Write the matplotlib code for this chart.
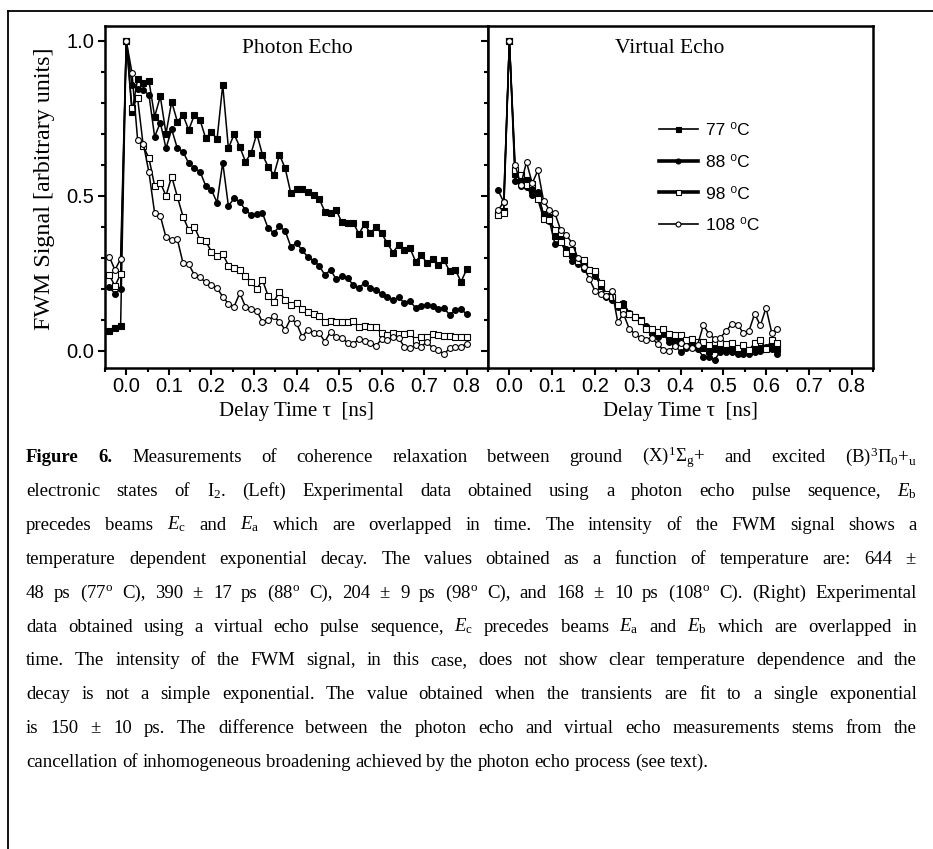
import numpy as np
import matplotlib
matplotlib.use('Agg')
import matplotlib.pyplot as plt
from matplotlib.lines import Line2D
from matplotlib.ticker import MultipleLocator, FormatStrFormatter

plt.rcParams['font.family'] = ['Liberation Sans', 'DejaVu Sans']
plt.rcParams['mathtext.fontset'] = 'custom'
plt.rcParams['mathtext.rm'] = 'Liberation Serif'
plt.rcParams['mathtext.it'] = 'Liberation Serif:italic'
plt.rcParams['mathtext.bf'] = 'Liberation Serif:bold'

# Pas de retard entre mostres (ns)
pas = 0.8 / 60
t_esq = np.arange(-3, 61) * pas          # Photon echo
t_dre = np.arange(-2, 48) * pas          # Virtual echo

# Photon echo (senyal normalitzat)
pe_77 = [0.065, 0.073, 0.08, 1.0, 0.769, 0.876, 0.863, 0.87, 0.755, 0.82, 0.70, 0.803, 0.739, 0.76,
         0.712, 0.76, 0.744, 0.685, 0.706, 0.682, 0.857, 0.653, 0.698, 0.658, 0.61, 0.637, 0.70,
         0.632, 0.594, 0.567, 0.632, 0.589, 0.508, 0.521, 0.521, 0.513, 0.503, 0.49, 0.449, 0.446,
         0.454, 0.414, 0.411, 0.413, 0.377, 0.409, 0.379, 0.399, 0.379, 0.347, 0.317, 0.342, 0.325,
         0.331, 0.288, 0.309, 0.283, 0.295, 0.277, 0.293, 0.256, 0.261, 0.223, 0.263]
pe_88 = [0.205, 0.185, 0.20, 1.0, 0.857, 0.843, 0.84, 0.825, 0.69, 0.736, 0.653, 0.714, 0.653, 0.642,
         0.605, 0.589, 0.578, 0.532, 0.519, 0.478, 0.607, 0.467, 0.492, 0.481, 0.454, 0.438, 0.441,
         0.444, 0.395, 0.381, 0.401, 0.387, 0.336, 0.347, 0.325, 0.302, 0.291, 0.274, 0.245, 0.261,
         0.231, 0.242, 0.234, 0.213, 0.202, 0.22, 0.202, 0.197, 0.184, 0.175, 0.164, 0.173, 0.154,
         0.161, 0.138, 0.145, 0.148, 0.145, 0.134, 0.138, 0.116, 0.132, 0.134, 0.119]
pe_98 = [0.245, 0.209, 0.248, 1.0, 0.784, 0.814, 0.66, 0.621, 0.532, 0.542, 0.50, 0.562, 0.497, 0.433,
         0.39, 0.40, 0.358, 0.354, 0.32, 0.306, 0.313, 0.275, 0.266, 0.261, 0.24, 0.223, 0.199,
         0.229, 0.177, 0.159, 0.191, 0.164, 0.148, 0.154, 0.134, 0.124, 0.119, 0.113, 0.094, 0.097,
         0.094, 0.094, 0.092, 0.095, 0.078, 0.081, 0.078, 0.076, 0.057, 0.052, 0.057, 0.055, 0.055,
         0.057, 0.035, 0.046, 0.046, 0.055, 0.052, 0.048, 0.048, 0.046, 0.044, 0.044]
pe_108 = [0.304, 0.261, 0.296, 1.0, 0.897, 0.68, 0.668, 0.575, 0.444, 0.435, 0.366, 0.356, 0.36, 0.283,
          0.279, 0.245, 0.237, 0.221, 0.213, 0.202, 0.175, 0.152, 0.143, 0.186, 0.143, 0.134, 0.129,
          0.094, 0.10, 0.111, 0.094, 0.068, 0.105, 0.089, 0.046, 0.068, 0.057, 0.057, 0.030, 0.062,
          0.044, 0.041, 0.027, 0.023, 0.038, 0.033, 0.027, 0.016, 0.038, 0.035, 0.046, 0.041, 0.014,
          0.009, 0.019, 0.014, 0.030, 0.009, 0.003, -0.01, 0.009, 0.014, 0.014, 0.023]

# Virtual echo
ve_77 = [0.44, 0.45, 1.0, 0.57, 0.55, 0.55, 0.52, 0.50, 0.44, 0.43, 0.37, 0.36, 0.32, 0.31, 0.29,
         0.28, 0.26, 0.25, 0.21, 0.18, 0.17, 0.145, 0.15, 0.12, 0.11, 0.10, 0.075, 0.06, 0.055, 0.06,
         0.045, 0.04, 0.03, 0.03, 0.025, 0.02, 0.01, 0.0, 0.005, 0.01, 0.012, 0.008, 0.005, 0.0,
         0.002, 0.005, 0.01, 0.008, 0.015, 0.005]
ve_88 = [0.518, 0.48, 1.0, 0.548, 0.532, 0.528, 0.501, 0.512, 0.437, 0.42, 0.343, 0.359, 0.33, 0.291,
         0.28, 0.265, 0.262, 0.24, 0.215, 0.173, 0.165, 0.14, 0.155, 0.123, 0.108, 0.10, 0.08, 0.065,
         0.045, 0.055, 0.03, 0.02, -0.004, 0.01, 0.015, 0.005, -0.018, -0.018, -0.028, -0.002,
         -0.004, -0.004, -0.01, -0.011, -0.01, -0.002, 0.0, 0.012, 0.005, -0.011]
ve_98 = [0.437, 0.445, 1.0, 0.584, 0.567, 0.535, 0.537, 0.488, 0.426, 0.423, 0.389, 0.35, 0.316, 0.325,
         0.291, 0.293, 0.262, 0.258, 0.22, 0.184, 0.175, 0.147, 0.13, 0.12, 0.11, 0.095, 0.072, 0.072,
         0.06, 0.07, 0.055, 0.052, 0.052, 0.035, 0.04, 0.028, 0.03, 0.02, 0.028, 0.025, 0.022, 0.025,
         0.008, 0.018, 0.003, 0.025, 0.036, 0.005, 0.036, 0.025]
ve_108 = [0.453, 0.48, 1.0, 0.60, 0.535, 0.609, 0.54, 0.582, 0.483, 0.455, 0.443, 0.389, 0.373, 0.347,
          0.30, 0.27, 0.233, 0.194, 0.184, 0.178, 0.193, 0.093, 0.12, 0.072, 0.055, 0.043, 0.034,
          0.043, 0.021, 0.004, -0.001, 0.015, 0.025, 0.015, 0.01, 0.02, 0.082, 0.055, 0.039, 0.043,
          0.064, 0.088, 0.085, 0.058, 0.064, 0.12, 0.082, 0.139, 0.058, 0.072]

temperatures = ['77', '88', '98', '108']
etiquetes = [t + ' \u2070C' for t in temperatures]

# estil de cada serie: marcador, farciment, gruix a la llegenda
marcadors = ['s', 'o', 's', 'o']
farciment = ['black', 'black', 'white', 'white']
gruix_llegenda = [1.2, 2.6, 2.6, 1.2]

serif = 'Liberation Serif'

fig = plt.figure(figsize=(9.33, 8.49), dpi=100)
ax1 = fig.add_axes([105/933, 1-368/849, 383/933, 342/849])
ax2 = fig.add_axes([488/933, 1-368/849, 385/933, 342/849])

for y, m, f in zip([pe_77, pe_88, pe_98, pe_108], marcadors, farciment):
    ax1.plot(t_esq, y, color='black', lw=1.1, marker=m, ms=4.2, mfc=f, mec='black', mew=0.8)

for y, m, f in zip([ve_77, ve_88, ve_98, ve_108], marcadors, farciment):
    ax2.plot(t_dre, y, color='black', lw=1.1, marker=m, ms=4.2, mfc=f, mec='black', mew=0.8)

for ax in (ax1, ax2):
    ax.set_xlim(-0.05, 0.85)
    ax.set_ylim(-0.055, 1.047)
    ax.set_xticks(np.arange(0, 0.81, 0.1))
    ax.xaxis.set_major_formatter(FormatStrFormatter('%.1f'))
    ax.xaxis.set_minor_locator(MultipleLocator(0.05))
    ax.set_yticks([0.0, 0.5, 1.0])
    ax.yaxis.set_major_formatter(FormatStrFormatter('%.1f'))
    ax.yaxis.set_minor_locator(MultipleLocator(0.1))
    ax.tick_params(which='both', direction='out', width=1.5, labelsize=14.5, top=False, right=False)
    ax.tick_params(which='major', length=5)
    ax.tick_params(which='minor', length=3)
    ax.tick_params(axis='x', pad=1.5)
    ax.tick_params(axis='y', pad=3)
    for s in ax.spines.values():
        s.set_linewidth(1.8)
    ax.set_xlabel('Delay Time \u03c4  [ns]', family=serif, fontsize=15)
    ax.xaxis.set_label_coords(0.5, -0.126)
    ax.xaxis.label.set_va('center')

ax2.tick_params(axis='y', labelleft=False)
ax1.set_ylabel('FWM Signal [arbitrary units]', family=serif, fontsize=17.3)
ax1.yaxis.set_label_coords(-0.159, 0.523)
ax1.yaxis.label.set_va('center')

ax1.text(0.501, 0.933, 'Photon Echo', transform=ax1.transAxes, ha='center', va='center',
         family=serif, fontsize=15.5)
ax2.text(0.473, 0.933, 'Virtual Echo', transform=ax2.transAxes, ha='center', va='center',
         family=serif, fontsize=15.5)

mans = [Line2D([], [], color='black', lw=g, marker=m, ms=3.6, mfc=f, mec='black', mew=0.8)
        for g, m, f in zip(gruix_llegenda, marcadors, farciment)]
ax2.legend(mans, etiquetes, loc='upper left', bbox_to_anchor=(0.444, 0.716), frameon=False,
           fontsize=12.5, handlelength=2.25, handletextpad=0.45, labelspacing=0.95,
           borderpad=0, borderaxespad=0)

# marc de la figura
fig.add_artist(Line2D([8/933, 1], [1-11/849, 1-11/849], color='black', lw=1.3))
fig.add_artist(Line2D([8/933, 8/933], [1-11/849, 0], color='black', lw=1.3))

# Peu de figura (justificat)
linies = [
    r"Figure 6.  Measurements of coherence relaxation between ground (X)$^1\Sigma_\mathrm{g}$+ and excited (B)$^3\Pi_0$+$_\mathrm{u}$",
    r"electronic states of I$_2$. (Left) Experimental data obtained using a photon echo pulse sequence, $E_\mathrm{b}$",
    r"precedes beams $E_\mathrm{c}$ and $E_\mathrm{a}$ which are overlapped in time. The intensity of the FWM signal shows a",
    r"temperature dependent exponential decay. The values obtained as a function of temperature are: 644 $\pm$",
    r"48 ps (77$^\mathrm{o}$ C), 390 $\pm$ 17 ps (88$^\mathrm{o}$ C), 204 $\pm$ 9 ps (98$^\mathrm{o}$ C), and 168 $\pm$ 10 ps (108$^\mathrm{o}$ C). (Right) Experimental",
    r"data obtained using a virtual echo pulse sequence, $E_\mathrm{c}$ precedes beams $E_\mathrm{a}$ and $E_\mathrm{b}$ which are overlapped in",
    r"time. The intensity of the FWM signal, in this case, does not show clear temperature dependence and the",
    r"decay is not a simple exponential. The value obtained when the transients are fit to a single exponential",
    r"is 150 $\pm$ 10 ps. The difference between the photon echo and virtual echo measurements stems from the",
    r"cancellation of inhomogeneous broadening achieved by the photon echo process (see text).",
]
mida_peu = 13.5
x_esq, x_dre = 26, 917
renderer = fig.canvas.get_renderer()
espai = mida_peu * 0.25 * 100 / 72
for n, linia in enumerate(linies):
    y = 1 - (462 + n * 33.9) / 849
    paraules = [p for p in linia.split(' ') if p]
    textos = []
    for p in paraules:
        pes = 'bold' if p in ('Figure', '6.') else 'normal'
        textos.append(fig.text(0, y, p, family=serif, fontsize=mida_peu, weight=pes, va='baseline'))
    amples = [tx.get_window_extent(renderer).width for tx in textos]
    if n < len(linies) - 1:
        buit = (x_dre - x_esq - sum(amples)) / (len(textos) - 1)
    else:
        buit = espai
    x = x_esq
    for tx, a in zip(textos, amples):
        tx.set_x(x / 933)
        x += a + buit

fig.savefig('out.png', dpi=100)
